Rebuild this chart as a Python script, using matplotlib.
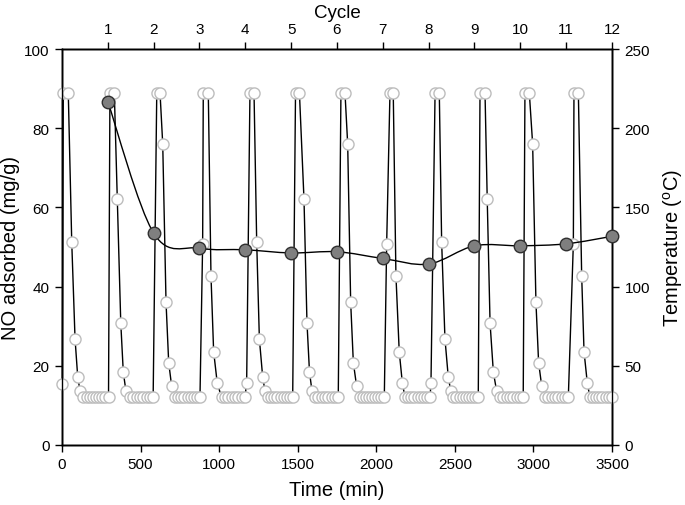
import numpy as np
import matplotlib.pyplot as plt
from matplotlib.path import Path
from matplotlib.patches import PathPatch

plt.rcParams['font.family'] = ['Liberation Sans', 'DejaVu Sans']
plt.rcParams['mathtext.default'] = 'regular'

# temperature programme (time in min, temperature in C), one row per cycle
time_min = [
    2, 8, 40, 62, 83, 100, 115, 136, 156, 176, 196, 216, 236, 256, 276, 296,
    305, 333, 352, 374, 390, 407, 433, 454, 475, 496, 517, 538, 559, 580,
    603, 624, 641, 662, 679, 698, 719, 739, 759, 779, 799, 819, 839, 859, 878,
    895, 899, 931, 948, 965, 988, 1016, 1037, 1058, 1080, 1101, 1122, 1143, 1164, 1175,
    1196, 1222, 1239, 1256, 1277, 1292, 1313, 1332, 1352, 1371, 1391, 1410, 1429, 1449, 1468,
    1486, 1511, 1540, 1559, 1575, 1591, 1610, 1631, 1652, 1673, 1695, 1716, 1737, 1758,
    1775, 1801, 1818, 1837, 1854, 1875, 1896, 1915, 1935, 1954, 1974, 1993, 2012, 2032, 2051,
    2066, 2087, 2108, 2125, 2146, 2166, 2183, 2203, 2223, 2243, 2263, 2282, 2302, 2322, 2342, 2348,
    2374, 2401, 2416, 2437, 2458, 2474, 2490, 2510, 2530, 2550, 2570, 2589, 2609, 2629, 2649,
    2660, 2692, 2706, 2724, 2745, 2766, 2787, 2808, 2829, 2851, 2872, 2893, 2914, 2935,
    2946, 2974, 2995, 3016, 3033, 3053, 3074, 3095, 3116, 3137, 3159, 3180, 3201, 3222,
    3254, 3258, 3286, 3307, 3322, 3343, 3360, 3380, 3400, 3420, 3439, 3459, 3479, 3498,
]
temp_c = [
    38.5, 222, 222, 128, 67, 43, 34, 30, 30, 30, 30, 30, 30, 30, 30, 30,
    222, 222, 155, 77, 46, 34, 30, 30, 30, 30, 30, 30, 30, 30,
    222, 222, 190, 90, 52, 37, 30, 30, 30, 30, 30, 30, 30, 30, 30,
    127, 222, 222, 107, 59, 39, 30, 30, 30, 30, 30, 30, 30, 30, 39,
    222, 222, 128, 67, 43, 34, 30, 30, 30, 30, 30, 30, 30, 30, 30,
    222, 222, 155, 77, 46, 34, 30, 30, 30, 30, 30, 30, 30, 30,
    222, 222, 190, 90, 52, 37, 30, 30, 30, 30, 30, 30, 30, 30, 30,
    127, 222, 222, 107, 59, 39, 30, 30, 30, 30, 30, 30, 30, 30, 30, 39,
    222, 222, 128, 67, 43, 34, 30, 30, 30, 30, 30, 30, 30, 30, 30,
    222, 222, 155, 77, 46, 34, 30, 30, 30, 30, 30, 30, 30, 30,
    222, 222, 190, 90, 52, 37, 30, 30, 30, 30, 30, 30, 30, 30,
    127, 222, 222, 107, 59, 39, 30, 30, 30, 30, 30, 30, 30, 30,
]

# NO adsorbed per cycle
cycle = [1, 2, 3, 4, 5, 6, 7, 8, 9, 10, 11, 12]
no_ads = [86.7, 53.5, 49.7, 49.3, 48.5, 48.8, 47.1, 45.7, 50.3, 50.3, 50.8, 52.7]

fig = plt.figure(figsize=(6.85, 5.06), dpi=100)
ax = fig.add_axes([62/685, 1-446/506, 550/685, 396/506])
axT = ax.twinx()
axC = ax.twiny()

# temperature
axT.plot(time_min, temp_c, color='black', lw=1.0, marker='o', ms=8,
         mfc='white', mec='#bdbdbd', mew=1.0, clip_on=False, zorder=3)

# smooth curve through NO points (catmull-rom as bezier)
p = np.column_stack([cycle, no_ads]).astype(float)
pp = np.vstack([p[0], p, p[-1]])
verts = [p[0]]
codes = [Path.MOVETO]
for i in range(1, len(pp) - 2):
    c1 = pp[i] + (pp[i+1] - pp[i-1]) / 6
    c2 = pp[i+1] - (pp[i+2] - pp[i]) / 6
    verts += [c1, c2, pp[i+1]]
    codes += [Path.CURVE4] * 3
axC.add_patch(PathPatch(Path(verts, codes), fill=False, ec='black', lw=1.0, zorder=3))
axC.plot(cycle, no_ads, ls='none', marker='o', ms=9, mfc='#7f7f7f', mec='#303030',
         mew=1.0, clip_on=False, zorder=4)

ax.set_xlim(0, 3500)
ax.set_ylim(0, 100)
ax.set_xticks(np.arange(0, 3501, 500))
ax.set_yticks(np.arange(0, 101, 20))
axT.set_ylim(0, 250)
axT.set_yticks(np.arange(0, 251, 50))
axC.set_xlim(0, 12)
axC.set_xticks(cycle)

for a in (ax, axT, axC):
    a.tick_params(direction='out', length=5, width=1, labelsize=11, pad=4)
    for s in a.spines.values():
        s.set_linewidth(1.0)

ax.set_xlabel('Time (min)', fontsize=14.5, labelpad=6)
ax.set_ylabel('NO adsorbed (mg/g)', fontsize=14.5, labelpad=3)
axT.set_ylabel('Temperature ($^o$C)', fontsize=14.5, labelpad=8)
axC.set_xlabel('Cycle', fontsize=13.5, labelpad=4)

fig.savefig('out.png', dpi=100)
